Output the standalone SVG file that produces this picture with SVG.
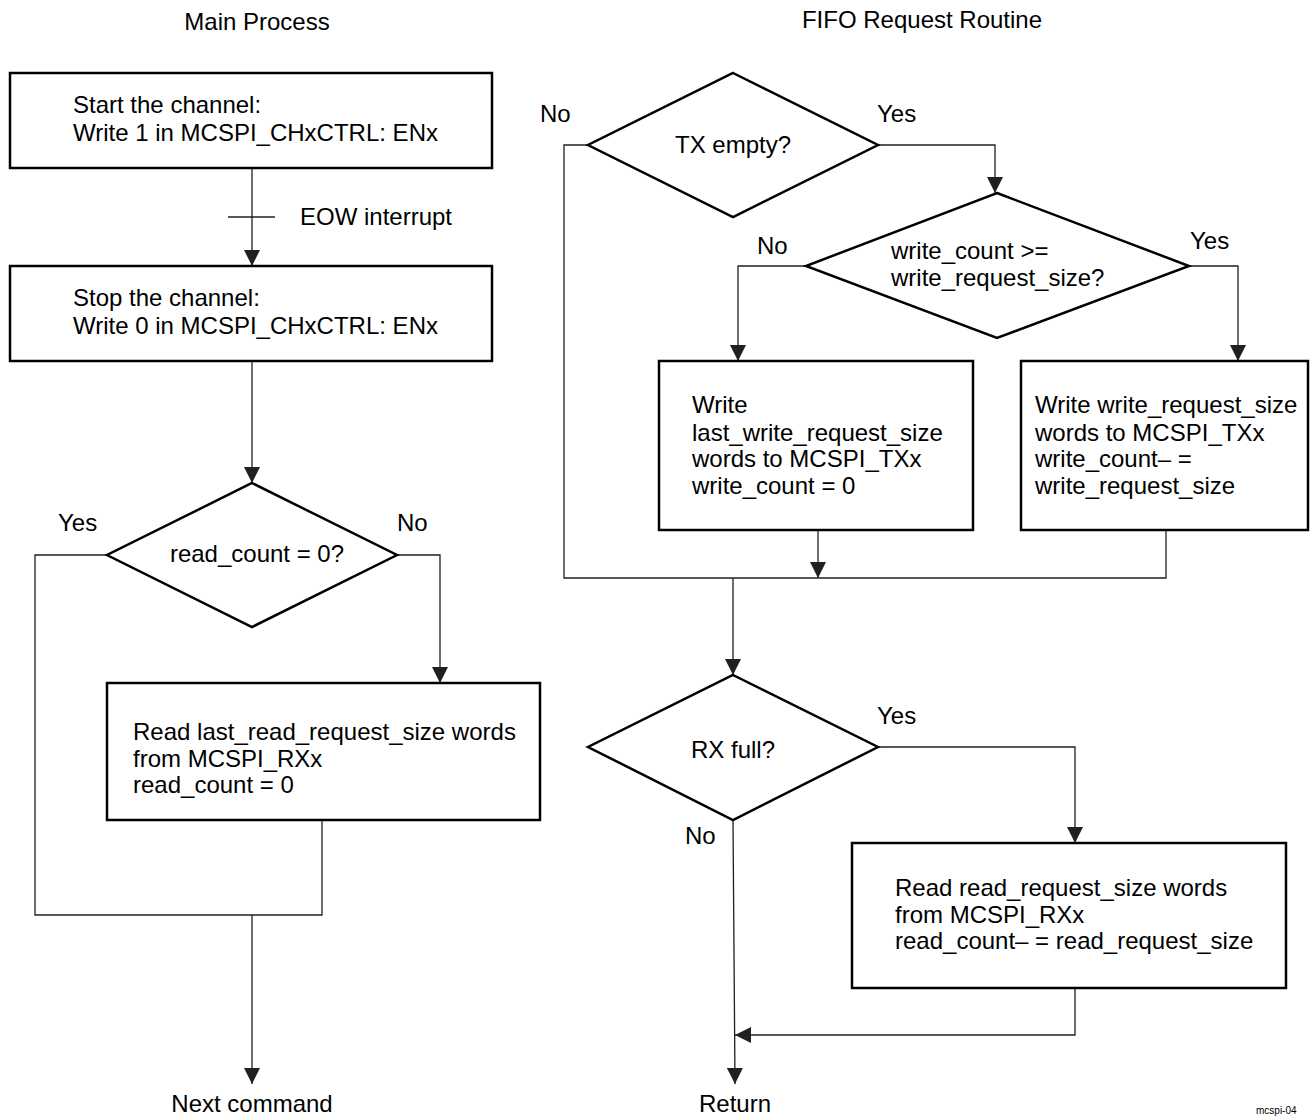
<svg xmlns="http://www.w3.org/2000/svg" width="1310" height="1116" viewBox="0 0 1310 1116">
<defs>
<marker id="arr" viewBox="0 0 10 10" refX="10" refY="5" markerWidth="16" markerHeight="16" markerUnits="userSpaceOnUse" orient="auto">
<path d="M0,0 L10,5 L0,10 Z" fill="#231f20"/>
</marker>
<style>
text{font-family:"Liberation Sans",Arial,sans-serif;font-size:24px;fill:#000}
.c{text-anchor:middle}
.box{fill:#fff;stroke:#000;stroke-width:2.5}
.ln{fill:none;stroke:#231f20;stroke-width:1.3}
.ar{fill:none;stroke:#231f20;stroke-width:1.3;marker-end:url(#arr)}
</style>
</defs>
<rect width="1310" height="1116" fill="#fff"/>
<text class="c" x="257" y="30">Main Process</text>
<text class="c" x="922" y="28">FIFO Request Routine</text>
<g id="connectors">
<path class="ar" d="M252,168 V266"/>
<path class="ln" d="M228,217 H275"/>
<path class="ar" d="M252,361 V483"/>
<path class="ln" d="M107,555 H35 V915 H322 V820"/>
<path class="ar" d="M252,915 V1084"/>
<path class="ar" d="M397,555 H440 V683"/>
<path class="ln" d="M588,145 H564 V578 H1166 V530"/>
<path class="ar" d="M818,530 V578"/>
<path class="ar" d="M733,578 V675"/>
<path class="ar" d="M878,145 H995 V193"/>
<path class="ar" d="M806,266 H738 V361"/>
<path class="ar" d="M1189,266 H1238 V361"/>
<path class="ar" d="M878,747 H1075 V843"/>
<path class="ar" d="M1075,988 V1035 H735"/>
<path class="ar" d="M733,820 L735,1084"/>
</g>
<g id="start">
<rect class="box" x="10" y="73" width="482" height="95"/>
<text x="73" y="113">Start the channel:</text>
<text x="73" y="141">Write 1 in MCSPI_CHxCTRL: ENx</text>
</g>
<text x="300" y="225">EOW interrupt</text>
<g id="stop">
<rect class="box" x="10" y="266" width="482" height="95"/>
<text x="73" y="306">Stop the channel:</text>
<text x="73" y="334">Write 0 in MCSPI_CHxCTRL: ENx</text>
</g>
<g id="readcount">
<path class="box" d="M252,483 L397,555 L252,627 L107,555 Z"/>
<text class="c" x="257" y="562">read_count = 0?</text>
<text x="58" y="531">Yes</text>
<text x="397" y="531">No</text>
</g>
<g id="readlast">
<rect class="box" x="107" y="683" width="433" height="137"/>
<text x="133" y="740">Read last_read_request_size words</text>
<text x="133" y="767">from MCSPI_RXx</text>
<text x="133" y="793">read_count = 0</text>
</g>
<text class="c" x="252" y="1112">Next command</text>
<g id="txempty">
<path class="box" d="M733,73 L878,145 L733,217 L588,145 Z"/>
<text class="c" x="733" y="153">TX empty?</text>
<text x="540" y="122">No</text>
<text x="877" y="122">Yes</text>
</g>
<g id="writecount">
<path class="box" d="M997,193 L1189,266 L997,338 L806,266 Z"/>
<text x="891" y="259">write_count &gt;=</text>
<text x="891" y="286">write_request_size?</text>
<text x="757" y="254">No</text>
<text x="1190" y="249">Yes</text>
</g>
<g id="writelast">
<rect class="box" x="659" y="361" width="314" height="169"/>
<text x="692" y="413">Write</text>
<text x="692" y="441">last_write_request_size</text>
<text x="692" y="467">words to MCSPI_TXx</text>
<text x="692" y="494">write_count = 0</text>
</g>
<g id="writereq">
<rect class="box" x="1021" y="361" width="287" height="169"/>
<text x="1035" y="413">Write write_request_size</text>
<text x="1035" y="441">words to MCSPI_TXx</text>
<text x="1035" y="467">write_count– =</text>
<text x="1035" y="494">write_request_size</text>
</g>
<g id="rxfull">
<path class="box" d="M733,675 L878,747 L733,820 L588,747 Z"/>
<text class="c" x="733" y="758">RX full?</text>
<text x="877" y="724">Yes</text>
<text x="685" y="844">No</text>
</g>
<g id="readreq">
<rect class="box" x="852" y="843" width="434" height="145"/>
<text x="895" y="896">Read read_request_size words</text>
<text x="895" y="923">from MCSPI_RXx</text>
<text x="895" y="949">read_count– = read_request_size</text>
</g>
<text class="c" x="735" y="1112">Return</text>
<text x="1256" y="1114" style="font-size:10px">mcspi-04</text>
</svg>
